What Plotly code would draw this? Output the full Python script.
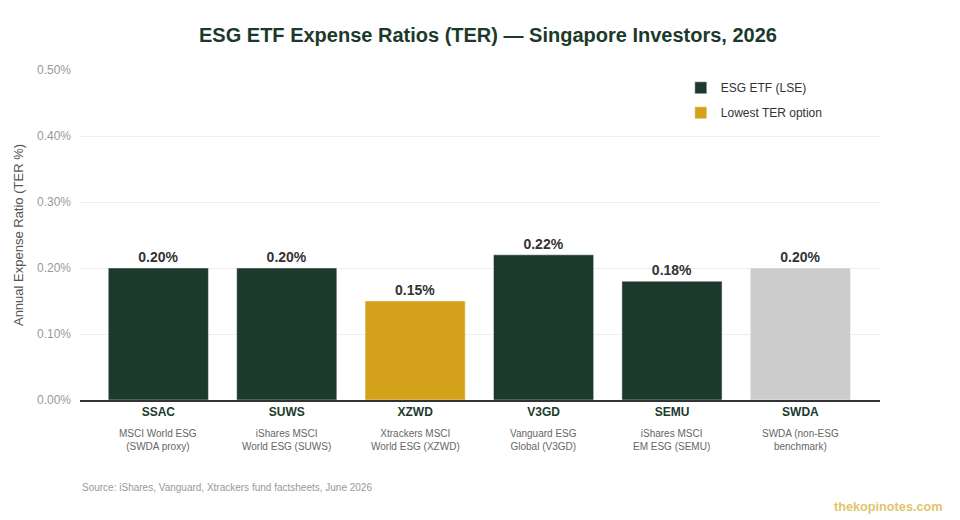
import plotly.graph_objects as go

# data
codes = ["SSAC", "SUWS", "XZWD", "V3GD", "SEMU", "SWDA"]
descriptions = [
    "MSCI World ESG<br>(SWDA proxy)",
    "iShares MSCI<br>World ESG (SUWS)",
    "Xtrackers MSCI<br>World ESG (XZWD)",
    "Vanguard ESG<br>Global (V3GD)",
    "iShares MSCI<br>EM ESG (SEMU)",
    "SWDA (non-ESG<br>benchmark)",
]
ter = [0.20, 0.20, 0.15, 0.22, 0.18, 0.20]
group = ["esg", "esg", "lowest", "esg", "esg", "benchmark"]

DARK = "#1c3a2b"
GOLD = "#d4a21a"
GREY = "#cccccc"
FONT = "Liberation Sans, Arial, sans-serif"

series = [
    ("esg", "ESG ETF (LSE)", DARK, True),
    ("lowest", "Lowest TER option", GOLD, True),
    ("benchmark", "Benchmark", GREY, False),
]

fig = go.Figure()
for key, name, color, show in series:
    xs = [c for c, g in zip(codes, group) if g == key]
    ys = [v for v, g in zip(ter, group) if g == key]
    fig.add_trace(go.Bar(
        x=xs, y=ys, name=name, marker_color=color,
        marker_line=dict(color="rgba(255,255,255,0.45)", width=1),
        width=0.78, showlegend=show, legendgroup=key,
        text=[f"{v:.2f}%" for v in ys], textposition="outside",
        textfont=dict(size=14, color="#333333", family=FONT, weight="bold"),
        cliponaxis=False,
    ))

# descriptions under the ticker codes
for c, d in zip(codes, descriptions):
    fig.add_annotation(x=c, y=-0.12, xref="x", yref="paper", text=d,
                       showarrow=False, yanchor="middle",
                       font=dict(size=10, color="#666666", family=FONT))

fig.add_annotation(x=0, y=-0.264, xref="paper", yref="paper", xanchor="left", yanchor="middle",
                   text="Source: iShares, Vanguard, Xtrackers fund factsheets, June 2026",
                   showarrow=False, font=dict(size=10, color="#999999", family=FONT))
fig.add_annotation(x=1.081, y=-0.324, xref="paper", yref="paper", xanchor="right", yanchor="middle",
                   text="<b>thekopinotes.com</b>", showarrow=False,
                   font=dict(size=12.7, color="#e3c46e", family=FONT))

# page body adds ~8px offset, so margins are shifted to compensate
fig.update_layout(
    width=960, height=520,
    margin=dict(l=72, r=88, t=62, b=128),
    paper_bgcolor="white", plot_bgcolor="white",
    barmode="overlay",
    font=dict(family=FONT),
    title=dict(text="<b>ESG ETF Expense Ratios (TER) — Singapore Investors, 2026</b>",
               x=0.5, xanchor="center", y=1 - 27 / 520, yanchor="middle",
               font=dict(size=20, color=DARK, family=FONT)),
    legend=dict(x=0.751, y=0.99, xanchor="left", yanchor="top",
                traceorder="grouped", tracegroupgap=6,
                font=dict(size=12, color="#333333", family=FONT),
                bgcolor="rgba(0,0,0,0)", itemwidth=30),
    xaxis=dict(categoryorder="array", categoryarray=codes, range=[-0.61, 5.62],
               tickvals=codes, ticktext=[f"<b>{c}</b>" for c in codes],
               tickfont=dict(size=12, color=DARK, family=FONT), automargin=False,
               showline=True, linecolor="#333333", linewidth=2, ticks="", showgrid=False),
    yaxis=dict(range=[0, 0.5], dtick=0.1, tickformat=".2f", ticksuffix="%",
               tickfont=dict(size=12, color="#999999", family=FONT), automargin=False,
               gridcolor="#eeeeee", zeroline=False, ticks="", ticklabelstandoff=8,
               title=dict(text="Annual Expense Ratio (TER %)",
                          font=dict(size=13, color="#555555", family=FONT), standoff=10)),
)

fig.write_html("out.html")
